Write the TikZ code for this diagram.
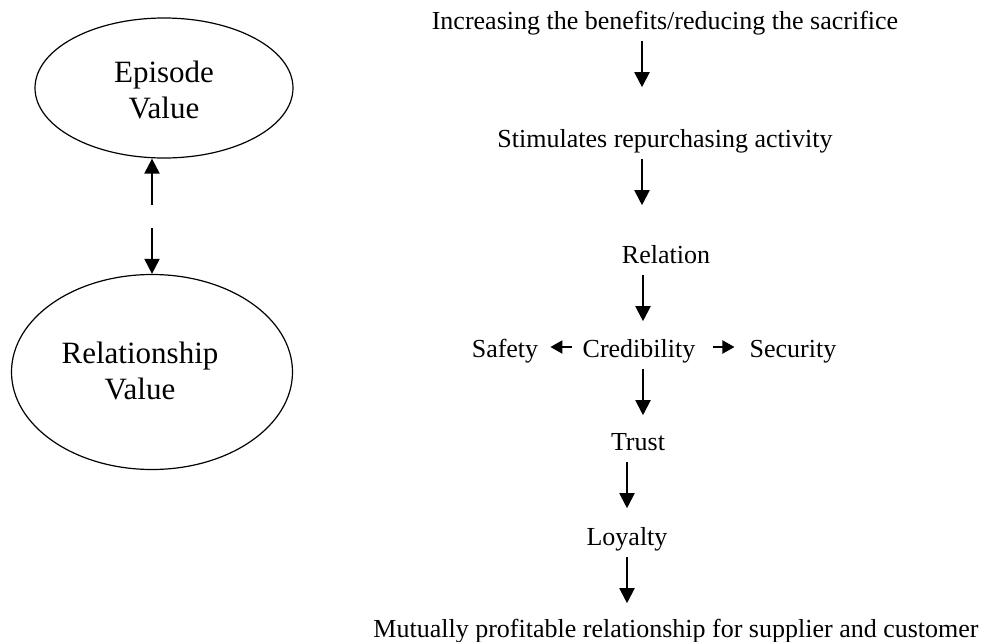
\documentclass[tikz,border=0pt]{standalone}
\usepackage{fontspec}
\setmainfont{Liberation Serif}
\usetikzlibrary{arrows.meta,shapes.geometric}

\begin{document}
\begin{tikzpicture}[x=1pt,y=-1pt,
    flow/.style={-{Triangle[width=15pt,length=15pt]},line width=2pt},
    side/.style={-{Triangle[width=13pt,length=12pt]},line width=2pt},
    oval/.style={draw,ellipse,line width=1.2pt,inner sep=0pt},
    bigtext/.style={align=center,font=\fontsize{31}{36}\selectfont},
    steptext/.style={inner sep=0pt,text height=18pt,text depth=5pt,font=\fontsize{26}{30}\selectfont}]
    % Define arrow length and gap below each text
    \def\len{46}
    \def\gap{7}

    \useasboundingbox (0,0) rectangle (983,641);

    % Draw ovals
    \node[oval,minimum width=258pt,minimum height=140pt] (ep) at (164,88) {};
    \node[oval,minimum width=281pt,minimum height=195pt] (rel) at (152,372) {};
    \node[bigtext] (eptxt) at (164,90) {Episode\\Value};
    \node[bigtext] (reltxt) at (140,371) {Relationship\\Value};

    % Arrows between the ovals
    \coordinate (gapup) at (152,205);
    \coordinate (gapdn) at (152,228);
    \draw[flow] (gapup) -- (gapup |- ep.south);
    \draw[flow] (gapdn) -- (rel.north);

    % Steps of the chain
    \node[steptext] (inc) at (665,22.5) {Increasing the benefits/reducing the sacrifice};
    \node[steptext] (stim) at (665,140.5) {Stimulates repurchasing activity};
    \node[steptext] (relat) at (666,256.5) {Relation};
    \node[steptext] (cred) at (639,350.5) {Credibility};
    \node[steptext] (safe) at (505,350.5) {Safety};
    \node[steptext] (secu) at (793,350.5) {Security};
    \node[steptext] (trust) at (638,443.5) {Trust};
    \node[steptext] (loyal) at (627,538.5) {Loyalty};
    \node[steptext] (mutual) at (676,630.5) {Mutually profitable relationship for supplier and customer};

    % Arrows down the chain
    \draw[flow] ([xshift=-23pt,yshift=-\gap pt]inc.south) -- ++(0,\len);
    \draw[flow] ([xshift=-23pt,yshift=-\gap pt]stim.south) -- ++(0,\len);
    \draw[flow] ([xshift=-23pt,yshift=-\gap pt]relat.south) -- ++(0,\len);
    \draw[flow] ([xshift=4pt,yshift=-\gap pt]cred.south) -- ++(0,\len);
    \draw[flow] ([xshift=-11pt,yshift=-\gap pt]trust.south) -- ++(0,\len);
    \draw[flow] ([yshift=-\gap pt]loyal.south) -- ++(0,\len);

    % Arrows to the sides
    \draw[side] ([xshift=-10pt,yshift=3.5pt]cred.west) -- ([xshift=12pt,yshift=3.5pt]safe.east);
    \draw[side] ([xshift=17pt,yshift=3.5pt]cred.east) -- ([xshift=-15pt,yshift=3.5pt]secu.west);
\end{tikzpicture}
\end{document}
